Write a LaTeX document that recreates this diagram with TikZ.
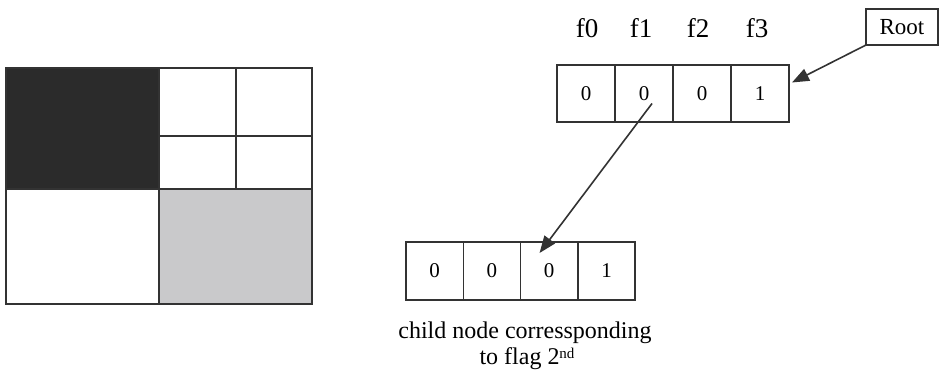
\documentclass[tikz,border=0pt]{standalone}
\usepackage{fontspec}
\setmainfont{Liberation Serif}
\usetikzlibrary{arrows.meta,calc}
\definecolor{ink}{HTML}{333333}
\definecolor{darkq}{HTML}{2B2B2B}
\definecolor{grayq}{HTML}{C9C9CB}
\tikzset{
  edge/.style={draw=ink, line width=1.5pt},
  topcell/.style={draw=ink, line width=1.4pt, minimum width=58pt, minimum height=57pt, inner sep=0pt, outer sep=0pt, font=\fontsize{21}{21}\selectfont},
  botcell/.style={draw=ink, line width=1.4pt, minimum width=57.3pt, minimum height=58pt, inner sep=0pt, outer sep=0pt, font=\fontsize{21}{21}\selectfont},
  flab/.style={anchor=base, inner sep=0pt, font=\fontsize{27}{27}\selectfont},
  caption/.style={anchor=base, inner sep=0pt, font=\fontsize{24}{24}\selectfont},
  ptr/.style={draw=ink, line width=1.6pt, -{Triangle[length=17pt,width=13pt]}},
}
\begin{document}
\begin{tikzpicture}[x=1pt,y=-1pt]
\useasboundingbox (0,0) rectangle (941,375);
\fill[white] (0,0) rectangle (941,375);
% quadtree picture
\fill[darkq] (6,68) rectangle (159,189);
\fill[grayq] (159,189) rectangle (312,304);
\draw[edge] (6,68) rectangle (312,304);
\draw[edge] (159,68) -- (159,304);
\draw[edge] (6,189) -- (312,189);
\draw[edge] (236,68) -- (236,189);
\draw[edge] (159,136) -- (312,136);
% top array
\node[topcell] (t0) at (586,93.5) {0};
\node[topcell, anchor=west] (t1) at (t0.east) {0};
\node[topcell, anchor=west] (t2) at (t1.east) {0};
\node[topcell, anchor=west] (t3) at (t2.east) {1};
\node[flab] (f0) at ($(t0.north)+(1,-28)$) {f0};
\node[flab] (f1) at ($(t1.north)+(-3,-28)$) {f1};
\node[flab] (f2) at ($(t2.north)+(-4,-28)$) {f2};
\node[flab] (f3) at ($(t3.north)+(-3,-28)$) {f3};
% root
\node[draw=ink, line width=1.4pt, minimum width=72pt, minimum height=36pt, inner sep=0pt, outer sep=0pt, font=\fontsize{23}{23}\selectfont] (root) at (902,27) {Root};
% bottom array
\node[botcell] (b0) at (434.6,271) {0};
\node[botcell, anchor=west] (b1) at (b0.east) {0};
\node[botcell, anchor=west] (b2) at (b1.east) {0};
\node[botcell, anchor=west] (b3) at (b2.east) {1};
\node[caption] (cap1) at (525,338) {child node corressponding};
\node[caption] (cap2) at (527,364) {to flag 2\raisebox{6pt}{\fontsize{15}{15}\selectfont nd}};
% pointers
\coordinate (rootin) at ($(t3.east)+(3,-11)$);
\draw[ptr] (root.south west) -- (rootin);
\coordinate (f1from) at ($(t1.center)+(8,10)$);
\coordinate (childin) at ($(b2.north west)+(19,11)$);
\draw[ptr] (f1from) -- (childin);
\end{tikzpicture}
\end{document}
